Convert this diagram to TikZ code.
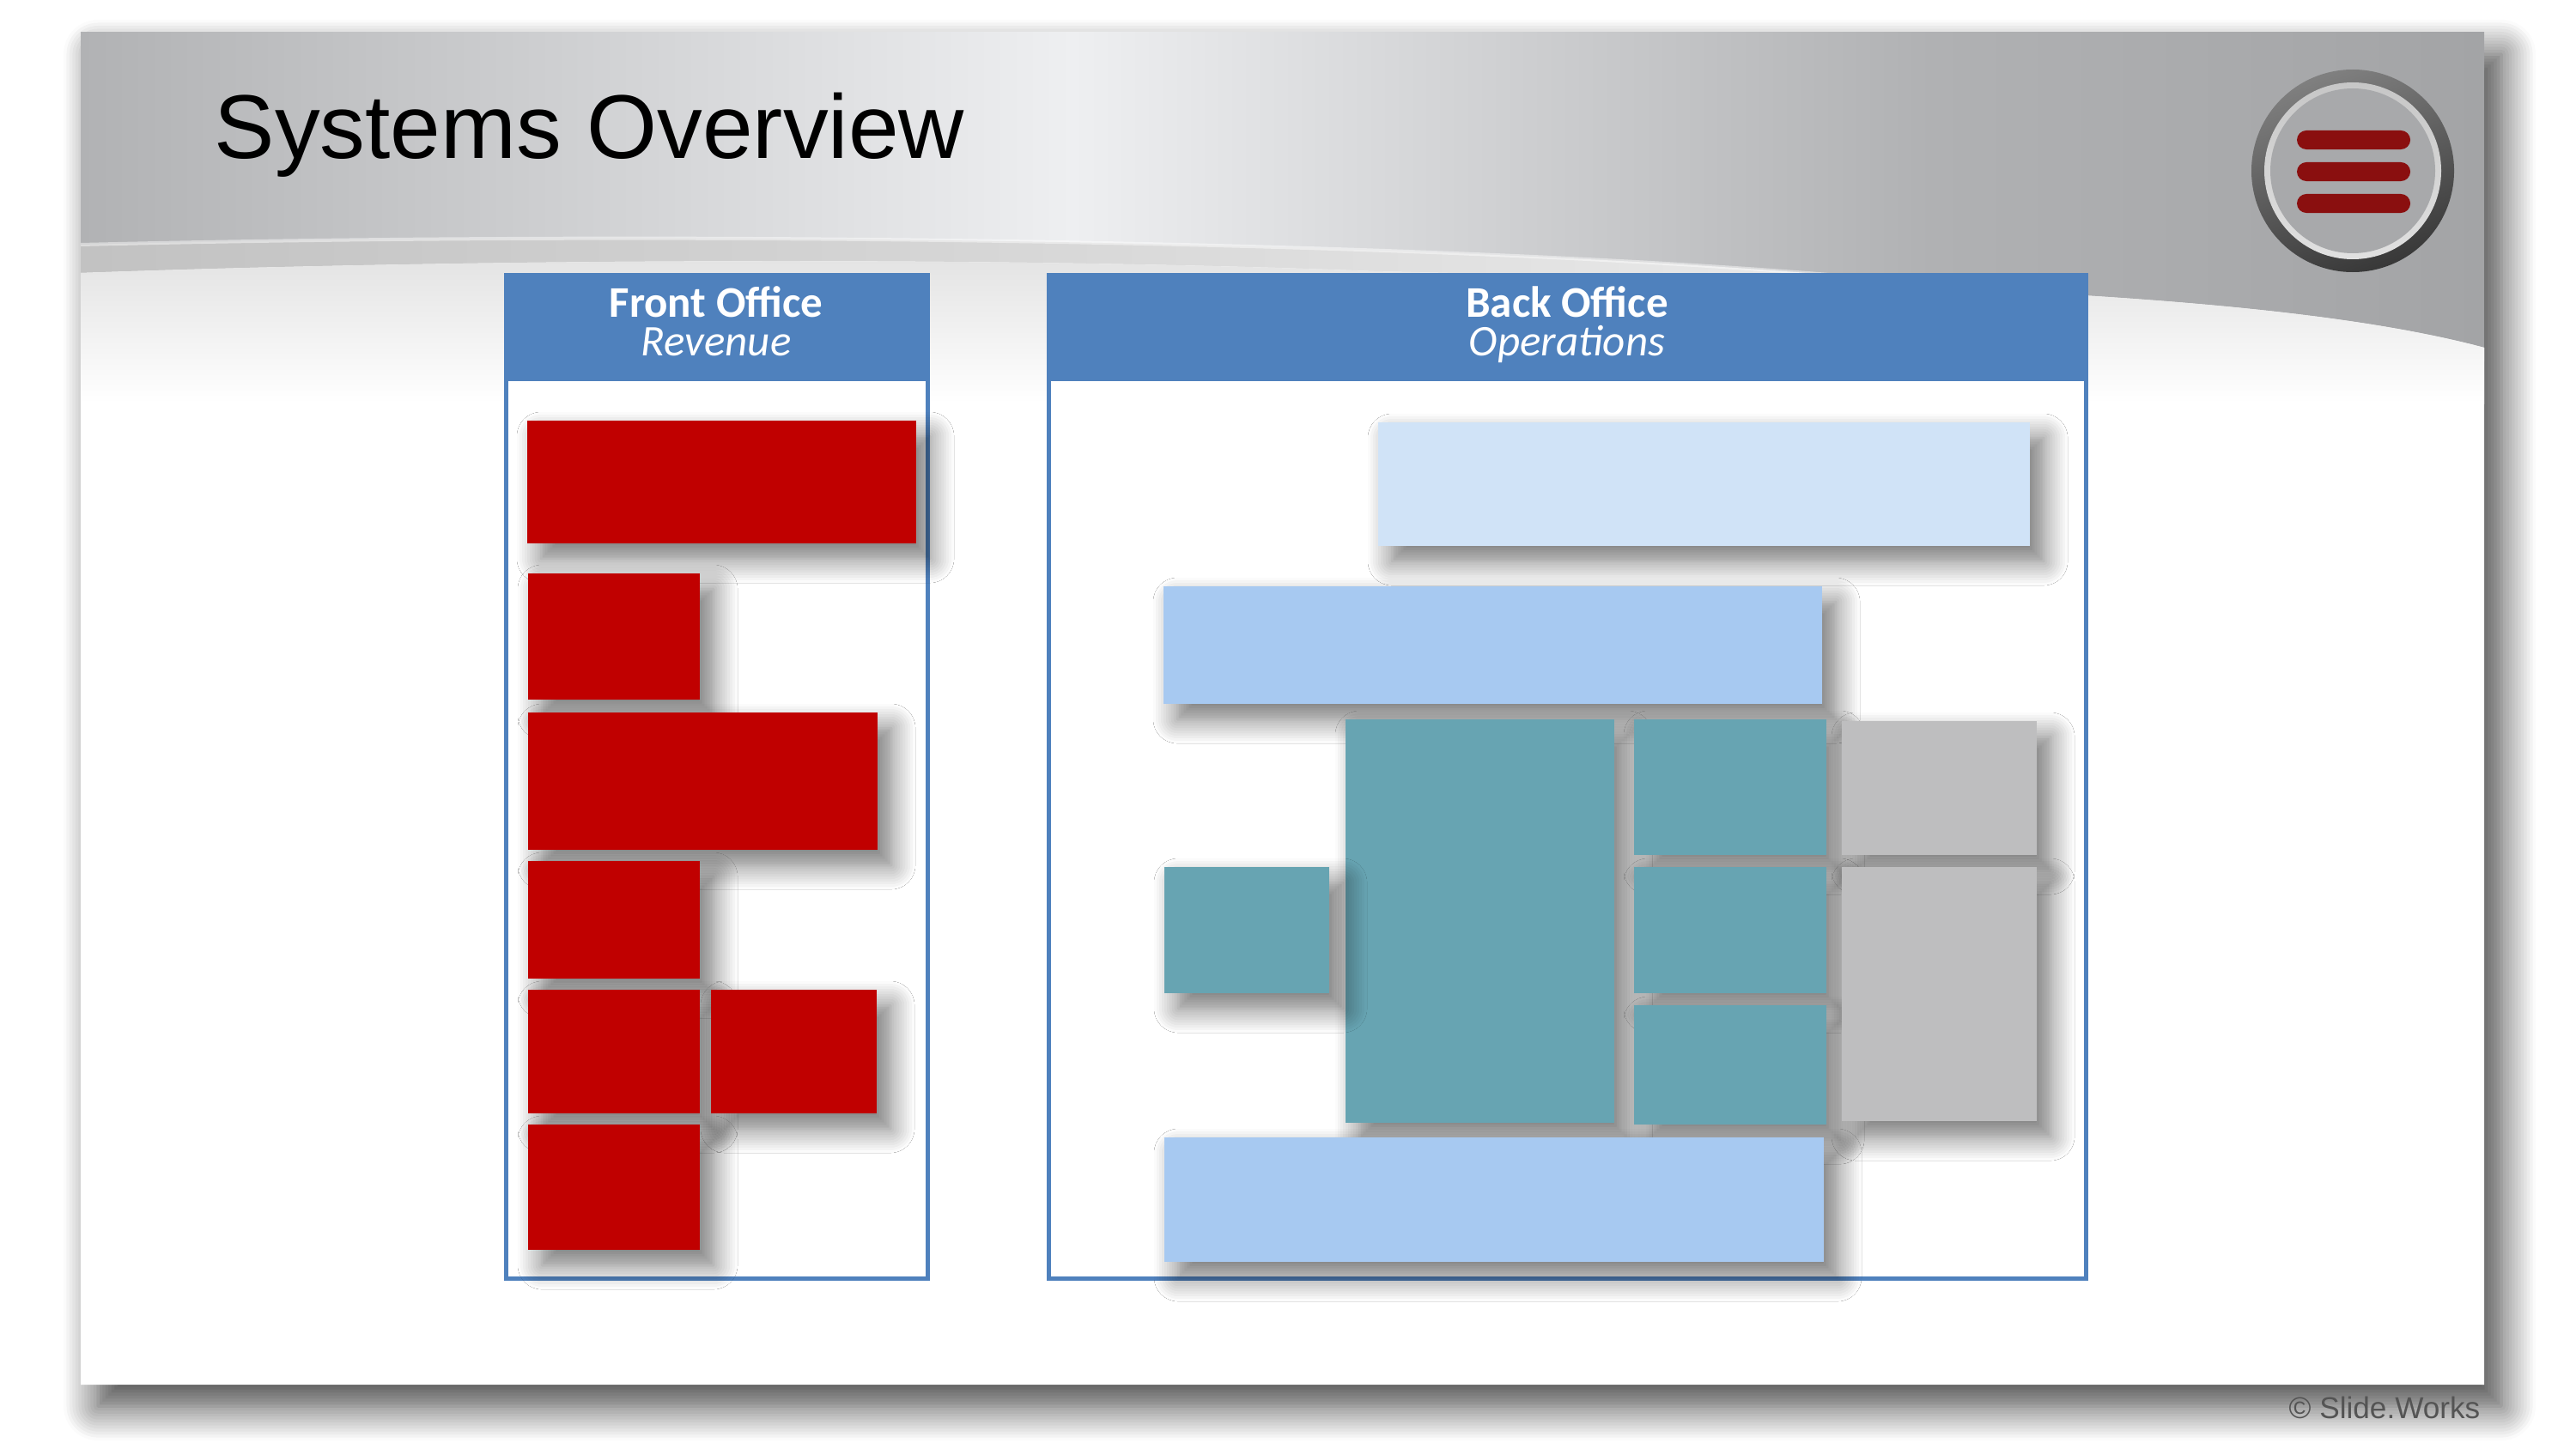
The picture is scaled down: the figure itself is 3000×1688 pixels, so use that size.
\documentclass[tikz,border=0pt]{standalone}
\usepackage{fontspec}
\usepackage{tikz}
\usetikzlibrary{fit,shadows.blur}
\newfontfamily\slidefont{Liberation Sans}
\newfontfamily\hdrfont{Carlito}
\definecolor{hdrblue}{RGB}{79,129,189}
\definecolor{fored}{RGB}{192,0,0}
\definecolor{paleblue}{RGB}{208,227,247}
\definecolor{midblue}{RGB}{167,201,241}
\definecolor{opsteal}{RGB}{103,164,178}
\definecolor{opsgrey}{RGB}{190,190,191}
\definecolor{menured}{RGB}{138,15,15}
\definecolor{bandleft}{RGB}{177,178,180}
\definecolor{bandmid}{RGB}{238,239,241}
\definecolor{bandgrey}{RGB}{176,177,179}
\definecolor{bandright}{RGB}{163,164,166}
\definecolor{discgrey}{RGB}{168,169,171}
\tikzset{
  sysbox/.style={inner sep=0pt, blur shadow={shadow xshift=0.16cm, shadow yshift=-0.18cm, shadow blur radius=0.28cm, shadow blur steps=10, shadow opacity=55}},
  redbox/.style={sysbox, fill=fored},
  palebox/.style={sysbox, fill=paleblue},
  bluebox/.style={sysbox, fill=midblue},
  tealbox/.style={sysbox, fill=opsteal},
  greybox/.style={sysbox, fill=opsgrey},
  panel/.style={draw=hdrblue, line width=0.05cm, fill=white, inner sep=0pt},
  panelhead/.style={fill=hdrblue, inner sep=0pt},
  headtxt/.style={text=white, inner sep=0pt, anchor=base, font=\hdrfont\fontsize{14.5}{17}\selectfont},
  menubar/.style={fill=menured, minimum width=1.32cm, minimum height=0.22cm, rounded corners=0.11cm, inner sep=0pt},
}

\begin{document}
\begin{tikzpicture}[x=0.01cm,y=0.01cm]
\useasboundingbox (0,-1688) rectangle (3000,0);
% slide
\node[fit={(94,-38) (2893,-1613)}, inner sep=0pt, fill=white,
  blur shadow={shadow xshift=0.2cm, shadow yshift=-0.25cm, shadow blur radius=0.4cm, shadow blur steps=12, shadow opacity=75}] (slide) {};
% grey title band
\shade[left color=bandleft, right color=bandmid] (94,-38) rectangle (1250,-420);
\shade[left color=bandmid, right color=bandgrey] (1249,-38) rectangle (2250,-420);
\shade[left color=bandgrey, right color=bandright] (2249,-38) rectangle (2893,-420);
% swoosh
\shade[left color=black!24, right color=black!8] (94,-285) .. controls (800,-268) and (1700,-280) .. (2200,-326) -- (2200,-400) -- (94,-400) -- cycle;
\draw[white, opacity=0.45, line width=0.04cm] (94,-285) .. controls (800,-268) and (1700,-280) .. (2200,-326);
\fill[white] (94,-318) .. controls (600,-300) and (1200,-300) .. (1600,-316) .. controls (2200,-330) and (2650,-340) .. (2893,-405) -- (2893,-1613) -- (94,-1613) -- cycle;
\begin{scope}
\clip (94,-318) .. controls (600,-300) and (1200,-300) .. (1600,-316) .. controls (2200,-330) and (2650,-340) .. (2893,-405) -- (2893,-500) -- (94,-500) -- cycle;
\shade[top color=black!11, bottom color=white] (94,-298) rectangle (2893,-470);
\end{scope}
% menu button
\shade[top color=black!78, bottom color=black!50, shading angle=200] (2740,-199) circle (118);
\shade[top color=black!22, bottom color=black!12] (2740,-199) circle (103);
\fill[discgrey] (2740,-199) circle (96);
\foreach \y [count=\i] in {163,200,237} \node[menubar] (bar\i) at (2741,-\y) {};
% title
\node[anchor=base west, inner sep=0pt, font=\slidefont\fontsize{30}{36}\selectfont] (title) at (249,-185) {Systems Overview};
% front office
\node[panel, fit={(589.5,-320.5) (1080.5,-1489.5)}] (fo) {};
\node[panelhead, fit={(587,-318) (1083,-444)}] (fohead) {};
\node[headtxt] (fotitle) at (834,-369) {\bfseries Front Office};
\node[headtxt] (fosub) at (834,-414) {\itshape Revenue};
\node[redbox, fit={(614,-490) (1067,-633)}] (fo1) {};
\node[redbox, fit={(615,-668) (815,-815)}] (fo2) {};
\node[redbox, fit={(615,-830) (1022,-990)}] (fo3) {};
\node[redbox, fit={(615,-1003) (815,-1140)}] (fo4) {};
\node[redbox, fit={(615,-1153) (815,-1297)}] (fo5) {};
\node[redbox, fit={(828,-1153) (1021,-1297)}] (fo6) {};
\node[redbox, fit={(615,-1310) (815,-1456)}] (fo7) {};
% back office
\node[panel, fit={(1221.5,-320.5) (2429.5,-1489.5)}] (bo) {};
\node[panelhead, fit={(1219,-318) (2432,-444)}] (bohead) {};
\node[headtxt] (botitle) at (1825,-369) {\bfseries Back Office};
\node[headtxt] (bosub) at (1825,-414) {\itshape Operations};
\node[palebox, fit={(1605,-492) (2364,-636)}] (bo1) {};
\node[bluebox, fit={(1355,-683) (2122,-820)}] (bo2) {};
\node[tealbox, fit={(1567,-838) (1880,-1308)}] (bo3) {};
\node[tealbox, fit={(1356,-1010) (1548,-1157)}] (bo4) {};
\node[tealbox, fit={(1903,-838) (2127,-996)}] (bo5) {};
\node[tealbox, fit={(1903,-1010) (2127,-1157)}] (bo6) {};
\node[tealbox, fit={(1903,-1171) (2127,-1310)}] (bo7) {};
\node[greybox, fit={(2145,-840) (2372,-996)}] (bo8) {};
\node[greybox, fit={(2145,-1010) (2372,-1306)}] (bo9) {};
\node[bluebox, fit={(1356,-1325) (2124,-1470)}] (bo10) {};
% footer
\node[anchor=base east, inner sep=0pt, text=black!67, font=\slidefont\fontsize{10}{12}\selectfont] (credit) at (2889,-1652) {\textcopyright{} Slide.Works};
\end{tikzpicture}
\end{document}
